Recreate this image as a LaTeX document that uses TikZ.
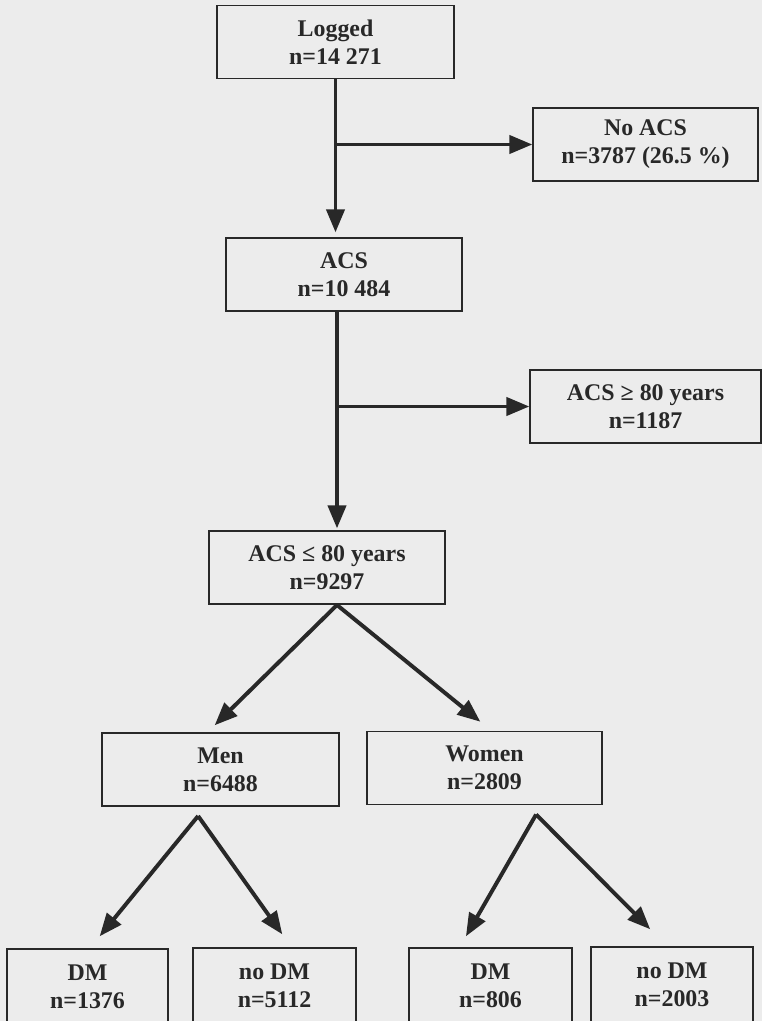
\documentclass[tikz,border=0pt]{standalone}
\usepackage{fontspec}
\setmainfont{Liberation Serif}
\usepackage{tikz}
\usepackage{xcolor}
\usetikzlibrary{arrows}
\definecolor{paper}{RGB}{236,236,236}
\definecolor{ink}{RGB}{40,40,40}

\begin{document}
\begin{tikzpicture}[thick,
		box/.style={draw=ink, line width=1.4pt, text=ink, inner sep=0pt,
			minimum height=1.825cm, align=center,
			font=\fontsize{17}{19.9}\selectfont\bfseries},
		lowbox/.style={box, minimum height=1.9cm},
		arr/.style={draw=ink, line width=2.8pt, -triangle 45}]
			\useasboundingbox (0,0) rectangle (19.05,-25.525);
			\fill[paper] (0,0) rectangle (19.05,-25.525);
			\clip (0,0) rectangle (19.05,-25.525);
			
			\node[box, minimum width=5.925cm] (logged) at (8.3875,-1.05) {Logged\\n=14 271};
			\node[box, minimum width=5.625cm] (noacs) at (16.1375,-3.6125) {No ACS\\n=3787 (26.5 \%)};
			\node[box, minimum width=5.9cm] (acs) at (8.6,-6.8625) {ACS\\n=10 484};
			\node[box, minimum width=5.775cm] (old) at (16.1375,-10.1625) {ACS ≥ 80 years\\n=1187};
			\node[box, minimum width=5.9cm] (young) at (8.175,-14.1875) {ACS ≤ 80 years\\n=9297};
			\node[box, minimum width=5.925cm] (men) at (5.5125,-19.2375) {Men\\n=6488};
			\node[box, minimum width=5.875cm] (women) at (12.1125,-19.2) {Women\\n=2809};
			\node[lowbox, minimum width=4.025cm] (mendm) at (2.1875,-24.675) {DM\\n=1376};
			\node[lowbox, minimum width=4.075cm] (mennodm) at (6.8625,-24.65) {no DM\\n=5112};
			\node[lowbox, minimum width=4.075cm] (womendm) at (12.2625,-24.65) {DM\\n=806};
			\node[lowbox, minimum width=4.05cm] (womennodm) at (16.8,-24.625) {no DM\\n=2003};
			
			\coordinate (trunk) at ([xshift=-0.175cm]acs.south);
			
			\draw[arr, shorten >=0.125cm] (logged.south) -- (logged.south |- acs.north);
			\draw[arr] (logged.south |- noacs.west) -- (noacs.west);
			\draw[arr, shorten >=0.05cm] (trunk) -- (trunk |- young.north);
			\draw[arr] (trunk |- old.west) -- (old.west);
			
			\draw[arr] ([xshift=0.25cm]young.south) -- ([xshift=-0.14cm,yshift=0.175cm]men.north);
			\draw[arr] ([xshift=0.25cm]young.south) -- ([xshift=-0.11cm,yshift=0.225cm]women.north);
			
			\draw[arr] ([xshift=-0.56cm,yshift=-0.225cm]men.south) -- ([xshift=0.31cm,yshift=0.3cm]mendm.north);
			\draw[arr] ([xshift=-0.56cm,yshift=-0.225cm]men.south) -- ([xshift=0.19cm,yshift=0.325cm]mennodm.north);
			\draw[arr] ([xshift=1.29cm,yshift=-0.225cm]women.south) -- ([xshift=-0.61cm,yshift=0.275cm]womendm.north);
			\draw[arr] ([xshift=1.29cm,yshift=-0.225cm]women.south) -- ([xshift=-0.55cm,yshift=0.425cm]womennodm.north);
		\end{tikzpicture}
\end{document}
